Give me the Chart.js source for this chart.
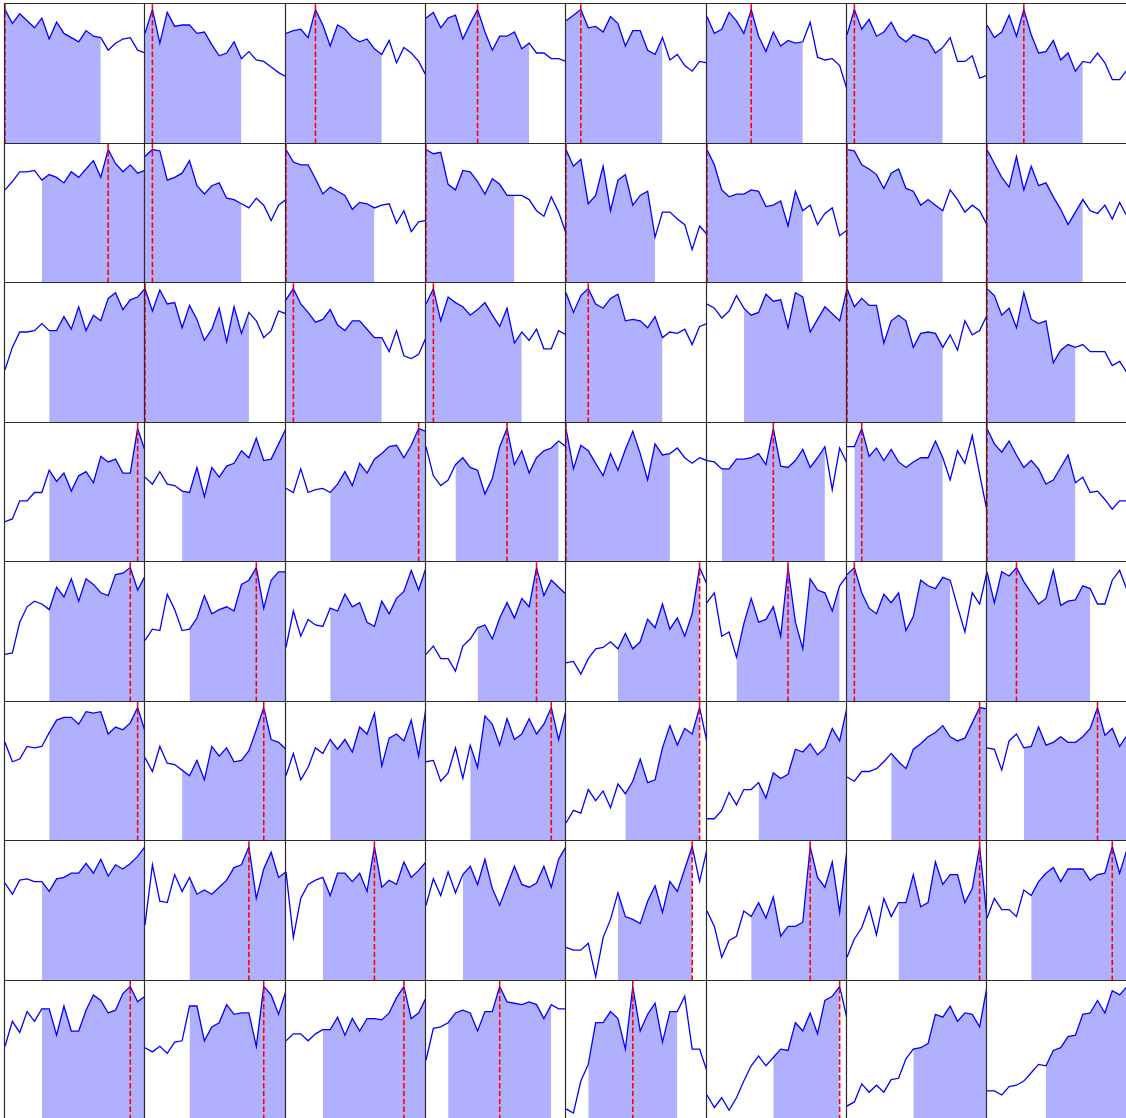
<!DOCTYPE html>
<html>
<head>
<meta charset="utf-8">
<script src="https://cdn.jsdelivr.net/npm/chart.js@4.4.1/dist/chart.umd.min.js"></script>
<style>
  html, body { margin: 0; padding: 0; background: #fff; overflow: hidden; }
  #grid { position: relative; width: 1126px; height: 1118px; }
  #grid canvas { position: absolute; }
</style>
</head>
<body>
<div id="grid"></div>
<script>
// x positions shared by every panel
const steps = [0, 1, 2, 3, 4, 5, 6, 7, 8, 9, 10, 11, 12, 13, 14, 15, 16, 17, 18, 19];

// one list of 8 series per grid row (height in % of the panel)
const row1 = [
    [96, 86, 93, 88, 83, 90, 75, 87, 79, 76, 73, 81, 77, 76, 67, 72, 75, 76, 67, 65],
    [79, 96, 72, 94, 84, 85, 85, 79, 80, 71, 63, 65, 73, 61, 66, 60, 59, 55, 51, 48],
    [79, 81, 82, 76, 96, 85, 70, 85, 82, 76, 73, 75, 68, 64, 74, 58, 69, 65, 59, 49],
    [90, 94, 83, 90, 92, 75, 86, 96, 80, 67, 77, 77, 80, 68, 72, 65, 65, 61, 61, 59],
    [88, 92, 96, 83, 84, 80, 91, 86, 70, 81, 81, 67, 64, 76, 60, 64, 56, 52, 59, 58],
    [91, 79, 82, 94, 88, 79, 96, 77, 66, 80, 70, 74, 72, 73, 87, 62, 60, 61, 56, 39],
    [78, 96, 82, 89, 77, 80, 87, 77, 73, 78, 76, 74, 65, 69, 76, 59, 59, 63, 47, 49],
    [85, 76, 80, 92, 77, 96, 78, 65, 66, 74, 60, 65, 52, 59, 58, 65, 58, 46, 46, 53]
];
const row2 = [
    [67, 73, 80, 80, 81, 74, 78, 76, 72, 80, 76, 82, 88, 76, 96, 86, 80, 85, 79, 81],
    [91, 96, 95, 74, 76, 79, 88, 70, 64, 70, 72, 61, 60, 57, 54, 61, 56, 45, 56, 60],
    [96, 87, 85, 85, 75, 64, 69, 66, 63, 53, 58, 57, 54, 56, 57, 43, 52, 37, 44, 45],
    [96, 93, 94, 71, 67, 81, 80, 73, 64, 75, 71, 63, 63, 63, 60, 52, 48, 62, 51, 36],
    [96, 84, 89, 57, 63, 84, 52, 74, 78, 56, 63, 66, 33, 51, 51, 46, 42, 24, 41, 35],
    [96, 85, 67, 62, 64, 64, 67, 66, 55, 56, 59, 41, 66, 52, 56, 42, 50, 54, 34, 38],
    [96, 95, 85, 82, 78, 68, 79, 82, 68, 66, 56, 60, 56, 52, 67, 60, 51, 56, 52, 42],
    [96, 86, 76, 69, 91, 67, 84, 70, 72, 62, 53, 42, 51, 60, 52, 50, 56, 46, 58, 48]
];
const row3 = [
    [38, 54, 65, 65, 66, 71, 66, 66, 76, 67, 83, 66, 77, 73, 89, 93, 81, 88, 90, 96],
    [96, 80, 95, 85, 86, 68, 84, 74, 59, 67, 82, 58, 83, 64, 79, 73, 61, 66, 80, 78],
    [88, 96, 85, 79, 72, 74, 81, 70, 66, 73, 73, 67, 61, 61, 51, 66, 48, 46, 49, 61],
    [85, 96, 73, 90, 86, 83, 77, 81, 86, 77, 69, 82, 57, 65, 59, 67, 53, 53, 66, 63],
    [93, 79, 91, 96, 85, 82, 89, 92, 73, 74, 73, 68, 76, 61, 65, 64, 67, 56, 69, 71],
    [85, 82, 75, 80, 91, 82, 77, 79, 92, 87, 88, 68, 93, 90, 65, 74, 83, 78, 73, 96],
    [96, 83, 89, 84, 84, 57, 73, 77, 73, 54, 64, 65, 64, 54, 63, 52, 73, 63, 66, 77],
    [96, 91, 77, 82, 68, 93, 74, 71, 73, 43, 52, 56, 54, 56, 51, 51, 51, 41, 44, 36]
];
const row4 = [
    [29, 31, 44, 44, 50, 50, 66, 58, 64, 51, 62, 65, 57, 76, 72, 74, 64, 64, 96, 80],
    [61, 56, 65, 56, 55, 51, 50, 68, 47, 68, 61, 69, 71, 80, 75, 89, 73, 74, 85, 96],
    [53, 50, 67, 50, 52, 53, 50, 56, 65, 55, 71, 64, 74, 78, 83, 84, 75, 84, 96, 94],
    [83, 62, 55, 59, 70, 75, 68, 66, 49, 60, 83, 96, 70, 80, 64, 75, 80, 82, 87, 83],
    [96, 67, 84, 80, 71, 62, 78, 66, 81, 94, 78, 59, 85, 77, 78, 82, 75, 71, 75, 73],
    [73, 72, 67, 67, 74, 74, 75, 78, 70, 96, 69, 68, 73, 81, 68, 75, 83, 52, 82, 71],
    [83, 83, 96, 76, 82, 73, 81, 72, 68, 72, 75, 75, 87, 75, 59, 80, 71, 91, 63, 37],
    [96, 85, 79, 87, 77, 68, 73, 67, 56, 59, 68, 77, 57, 61, 50, 51, 45, 38, 44, 44]
];
const row5 = [
    [34, 35, 57, 68, 72, 70, 66, 82, 75, 88, 72, 88, 84, 78, 76, 91, 92, 96, 80, 90],
    [44, 52, 51, 77, 66, 51, 52, 60, 76, 63, 66, 68, 65, 84, 87, 96, 67, 87, 93, 93],
    [39, 65, 47, 59, 55, 54, 67, 65, 77, 68, 71, 57, 54, 72, 63, 74, 79, 94, 80, 96],
    [34, 40, 31, 31, 22, 40, 45, 53, 55, 45, 60, 71, 60, 74, 68, 96, 76, 87, 82, 77],
    [28, 29, 20, 31, 38, 39, 43, 38, 49, 38, 43, 59, 53, 70, 52, 60, 47, 63, 96, 84],
    [71, 78, 47, 50, 32, 56, 74, 57, 59, 68, 47, 96, 57, 38, 88, 80, 78, 65, 83, 90],
    [91, 96, 78, 67, 63, 77, 71, 78, 51, 61, 87, 83, 81, 89, 87, 68, 50, 78, 70, 93],
    [93, 71, 93, 90, 96, 86, 78, 70, 74, 94, 69, 72, 73, 83, 81, 70, 70, 87, 94, 80]
];
const row6 = [
    [71, 57, 59, 68, 67, 68, 78, 87, 89, 89, 84, 93, 92, 93, 77, 82, 80, 85, 96, 79],
    [60, 50, 68, 56, 55, 51, 47, 58, 44, 68, 61, 67, 57, 58, 65, 80, 96, 73, 71, 66],
    [47, 63, 44, 53, 67, 63, 73, 66, 73, 64, 82, 77, 92, 54, 74, 77, 72, 87, 61, 96],
    [57, 58, 43, 49, 67, 45, 69, 53, 90, 84, 69, 88, 73, 77, 88, 77, 84, 96, 73, 94],
    [13, 22, 20, 37, 29, 36, 24, 41, 34, 43, 59, 42, 44, 67, 83, 69, 81, 77, 96, 71],
    [16, 16, 22, 35, 26, 37, 37, 42, 31, 49, 45, 48, 66, 64, 70, 62, 67, 81, 72, 96],
    [46, 43, 50, 50, 52, 57, 63, 57, 52, 66, 70, 75, 78, 83, 75, 72, 74, 85, 96, 95],
    [67, 66, 51, 72, 77, 67, 68, 82, 69, 71, 75, 71, 71, 75, 81, 96, 76, 81, 68, 76]
];
const row7 = [
    [70, 62, 72, 73, 71, 71, 64, 73, 74, 77, 77, 84, 77, 87, 75, 83, 80, 84, 89, 96],
    [40, 83, 57, 56, 76, 64, 74, 62, 65, 62, 67, 72, 81, 83, 96, 59, 80, 92, 74, 78],
    [78, 31, 59, 69, 72, 74, 61, 77, 77, 71, 77, 64, 96, 67, 72, 69, 85, 74, 79, 85],
    [54, 73, 61, 78, 63, 76, 82, 69, 87, 66, 54, 68, 82, 69, 67, 70, 82, 67, 87, 96],
    [24, 22, 22, 27, 3, 31, 44, 63, 46, 44, 41, 57, 68, 49, 71, 64, 80, 96, 71, 94],
    [50, 39, 17, 29, 32, 50, 46, 56, 45, 60, 32, 39, 39, 42, 96, 74, 67, 85, 49, 94],
    [17, 30, 38, 53, 33, 59, 46, 56, 56, 76, 53, 56, 85, 69, 76, 76, 56, 66, 96, 45],
    [45, 59, 51, 51, 46, 65, 61, 71, 77, 81, 71, 80, 80, 80, 72, 76, 77, 96, 77, 94]
];
const row8 = [
    [53, 71, 63, 78, 71, 80, 80, 61, 82, 64, 64, 79, 90, 86, 77, 79, 91, 96, 85, 89],
    [52, 49, 53, 48, 56, 57, 82, 82, 57, 67, 70, 83, 76, 77, 77, 53, 96, 90, 76, 93],
    [57, 62, 62, 57, 62, 65, 65, 74, 61, 73, 64, 73, 73, 72, 77, 88, 96, 73, 77, 88],
    [43, 66, 67, 70, 77, 79, 77, 64, 78, 78, 96, 85, 84, 83, 85, 83, 73, 83, 80, 80],
    [8, 5, 28, 40, 70, 70, 78, 73, 51, 96, 64, 76, 84, 56, 78, 78, 89, 51, 51, 35],
    [18, 9, 16, 7, 16, 28, 39, 46, 39, 45, 51, 50, 70, 64, 77, 62, 86, 89, 96, 73],
    [10, 13, 26, 20, 25, 20, 29, 30, 44, 51, 52, 55, 76, 74, 82, 71, 77, 76, 67, 96],
    [21, 21, 18, 24, 25, 28, 34, 40, 39, 50, 52, 60, 61, 76, 77, 86, 77, 93, 90, 96]
];

// shaded window (first and last step) and peak marker, panel by panel
const shadeFrom = [
    0, 0, 0, 0, 0, 0, 0, 0,
    5, 0, 0, 0, 0, 0, 0, 0,
    6, 0, 0, 0, 0, 5, 0, 0,
    6, 5, 6, 4, 0, 2, 1, 0,
    6, 6, 6, 7, 7, 4, 0, 0,
    6, 5, 6, 6, 8, 7, 6, 5,
    5, 6, 5, 5, 7, 6, 7, 6,
    5, 6, 5, 3, 3, 9, 9, 8
];
const shadeTo = [
    13, 13, 13, 14, 13, 13, 13, 13,
    19, 13, 12, 12, 12, 13, 13, 13,
    19, 14, 13, 13, 13, 19, 13, 12,
    19, 19, 19, 18, 14, 16, 13, 12,
    19, 19, 19, 19, 18, 18, 14, 14,
    19, 19, 19, 19, 18, 19, 19, 19,
    19, 19, 19, 19, 17, 19, 19, 19,
    19, 19, 19, 17, 15, 18, 19, 19
];
const peakAt = [
    0, 1, 4, 7, 2, 6, 1, 5,
    14, 1, 0, 0, 0, 0, 0, 0,
    19, 0, 1, 1, 3, 19, 0, 0,
    18, 19, 18, 11, 0, 9, 2, 0,
    17, 15, 19, 15, 18, 11, 1, 4,
    18, 16, 19, 17, 18, 19, 18, 15,
    19, 14, 12, 19, 17, 14, 18, 17,
    17, 16, 16, 10, 9, 18, 19, 19
];

const rows = [row1, row2, row3, row4, row5, row6, row7, row8];

// grid geometry; PAD leaves room so marks on a panel edge are not cut by the canvas
const GRID_LEFT = 5, GRID_TOP = 4, CELL_W = 140.3, CELL_H = 139.5, PAD = 3;

// thin dark frame just outside the left and top edge of each panel
const panelFrame = {
    id: 'panelFrame',
    beforeDatasetsDraw(chart) {
        const { ctx, chartArea: a } = chart;
        ctx.save();
        ctx.strokeStyle = '#2b2b2b';
        ctx.lineWidth = 1.2;
        ctx.beginPath();
        ctx.moveTo(a.left - 0.5, a.bottom);
        ctx.lineTo(a.left - 0.5, a.top - 0.5);
        ctx.lineTo(a.right, a.top - 0.5);
        ctx.stroke();
        ctx.restore();
    }
};

const grid = document.getElementById('grid');

rows.forEach((row, r) => {
    row.forEach((values, c) => {
        const k = r * 8 + c;
        const x0 = Math.round(GRID_LEFT + c * CELL_W);
        const x1 = Math.round(GRID_LEFT + (c + 1) * CELL_W);
        const y0 = Math.round(GRID_TOP + r * CELL_H);
        const y1 = Math.round(GRID_TOP + (r + 1) * CELL_H);

        const canvas = document.createElement('canvas');
        canvas.width = x1 - x0 + 2 * PAD;
        canvas.height = y1 - y0 + 2 * PAD;
        canvas.style.left = (x0 - PAD) + 'px';
        canvas.style.top = (y0 - PAD) + 'px';
        grid.appendChild(canvas);

        const linePts = steps.map(i => ({ x: i, y: values[i] }));
        const shadePts = linePts.filter(p => p.x >= shadeFrom[k] && p.x <= shadeTo[k]);
        const peak = peakAt[k];

        new Chart(canvas, {
            type: 'line',
            data: {
                datasets: [
                    {
                        // dashed marker at the series maximum
                        data: [{ x: peak, y: 0 }, { x: peak, y: 100 }],
                        borderColor: '#ff0000',
                        borderWidth: 1.6,
                        borderDash: [5.5, 2.4],
                        pointRadius: 0,
                        fill: false
                    },
                    {
                        data: linePts,
                        borderColor: '#0000ff',
                        borderWidth: 1.3,
                        pointRadius: 0,
                        tension: 0,
                        fill: false
                    },
                    {
                        data: shadePts,
                        borderWidth: 0,
                        borderColor: 'rgba(0,0,0,0)',
                        backgroundColor: 'rgba(0,0,255,0.31)',
                        pointRadius: 0,
                        tension: 0,
                        fill: 'origin'
                    }
                ]
            },
            options: {
                responsive: false,
                animation: false,
                events: [],
                layout: { padding: PAD },
                plugins: { legend: { display: false }, tooltip: { enabled: false } },
                scales: {
                    x: { type: 'linear', min: 0, max: 19, display: false },
                    y: { type: 'linear', min: 0, max: 100, display: false }
                }
            },
            plugins: [panelFrame]
        });
    });
});
</script>
</body>
</html>
